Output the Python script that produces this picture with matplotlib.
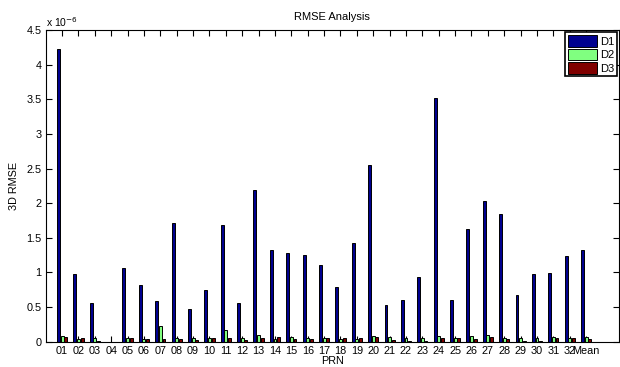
import numpy as np
import matplotlib.pyplot as plt

plt.rcParams['font.family'] = ['Liberation Sans', 'DejaVu Sans']

# PRN labels, values in units of 1e-6
prn = ['%02d' % i for i in range(1, 33)] + ['Mean']

d1 = [4.22, 0.977, 0.558, 0.0, 1.07, 0.823, 0.592, 1.709, 0.476, 0.751,
      1.685, 0.558, 2.194, 1.324, 1.285, 1.252, 1.112, 0.785, 1.429, 2.551,
      0.534, 0.606, 0.934, 3.514, 0.602, 1.627, 2.027, 1.844, 0.679, 0.977,
      0.987, 1.233, 1.319]
d2 = [0.087, 0.04, 0.05, 0.0, 0.05, 0.04, 0.23, 0.06, 0.05, 0.055,
      0.17, 0.05, 0.09, 0.04, 0.07, 0.06, 0.05, 0.04, 0.04, 0.08,
      0.07, 0.055, 0.055, 0.08, 0.055, 0.08, 0.09, 0.055, 0.055, 0.055,
      0.065, 0.055, 0.07]
d3 = [0.067, 0.05, 0.015, 0.0, 0.05, 0.045, 0.035, 0.04, 0.02, 0.06,
      0.05, 0.02, 0.06, 0.065, 0.04, 0.04, 0.06, 0.06, 0.055, 0.07,
      0.02, 0.01, 0.01, 0.055, 0.06, 0.04, 0.07, 0.045, 0.015, 0.015,
      0.06, 0.06, 0.045]

series = {'D1': d1, 'D2': d2, 'D3': d3}
colors = ['#00008f', '#80ff80', '#800000']

fig = plt.figure(figsize=(6.2, 3.67), dpi=100)
ax = fig.add_axes([0.0737, 0.069, 0.9245, 0.849])

x = np.arange(1, len(prn) + 1)
w = 0.178
offsets = [-0.222, 0.0, 0.222]
for (name, vals), c, off in zip(series.items(), colors, offsets):
    ax.bar(x + off, vals, width=w, color=c, edgecolor='black', linewidth=0.7,
           label=name, zorder=2)

ax.set_xlim(0, 35)
ax.set_ylim(0, 4.5)
ax.set_xticks(x)
ax.set_xticklabels(prn)
yt = np.arange(0, 4.51, 0.5)
ax.set_yticks(yt)
ax.set_yticklabels(['%g' % v for v in yt])
ax.tick_params(direction='in', top=True, right=True, length=4, width=0.8,
               labelsize=7.8, pad=3)
for s in ax.spines.values():
    s.set_linewidth(0.8)

ax.text(0.0, 1.005, 'x 10$^{-6}$', transform=ax.transAxes, fontsize=7.5,
        ha='left', va='bottom')
ax.set_title('RMSE Analysis', fontsize=8, pad=7)
ax.set_xlabel('PRN', fontsize=7.8, labelpad=0)
ax.set_ylabel('3D RMSE', fontsize=7.8, labelpad=5)

leg = ax.legend(loc='upper right', fontsize=8, fancybox=False,
                framealpha=1, edgecolor='black', borderpad=0.25,
                handlelength=2.6, handleheight=1.25, handletextpad=0.25,
                labelspacing=0.15, borderaxespad=0.2)
leg.get_frame().set_linewidth(1.2)

fig.savefig('out.png', dpi=100)
